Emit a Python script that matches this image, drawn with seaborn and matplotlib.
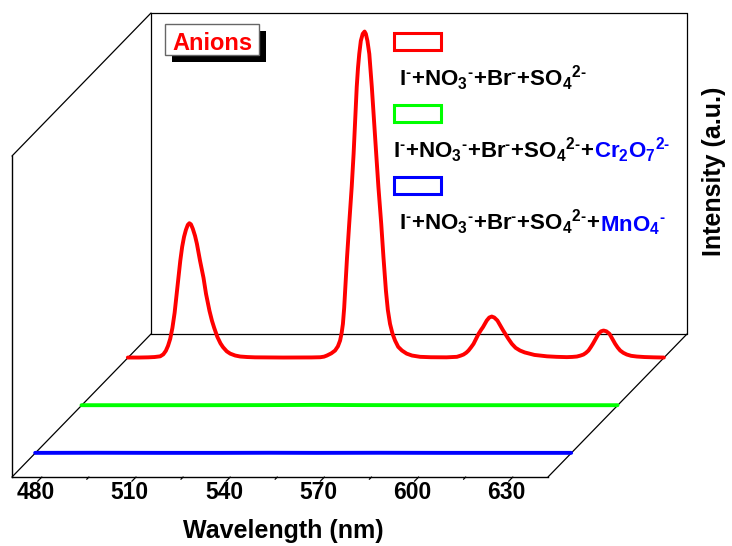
import matplotlib
matplotlib.use("Agg")
import numpy as np
import pandas as pd
import matplotlib.pyplot as plt
from matplotlib.patches import Rectangle
import seaborn as sns

# ---- emission spectra (a.u.) ----
red_wl = [470.5, 474.0, 477.0, 479.0, 480.8, 481.8, 482.6, 483.3, 484.0, 484.7,
          485.4, 486.0, 486.6, 487.2, 487.8, 488.4, 489.0, 489.6, 490.1, 490.6,
          491.2, 491.9, 492.5, 493.5, 494.6, 495.4, 496.5, 497.3, 498.0, 499.0,
          500.0, 500.8, 502.0, 503.1, 504.7, 506.3, 508.5, 511.0, 515.0, 520.0,
          525.0, 529.0, 531.8, 533.0, 533.9, 535.3, 536.5, 537.4, 538.1, 538.6,
          539.0, 539.4, 539.7, 540.3, 541.0, 541.8, 542.4, 542.9, 543.4, 543.8,
          544.2, 544.7, 545.3, 545.9, 546.3, 546.8, 547.4, 548.2, 548.9, 549.6,
          550.3, 551.2, 551.9, 552.7, 553.3, 554.0, 554.8, 555.6, 556.6, 557.8,
          559.3, 561.0, 563.6, 567.0, 572.0, 575.3, 576.5, 577.4, 578.3, 579.0,
          579.8, 580.6, 581.4, 582.2, 583.0, 583.6, 584.2, 584.8, 585.6, 586.4,
          587.2, 588.2, 588.8, 589.4, 590.0, 590.7, 591.7, 592.8, 594.0, 595.4,
          596.9, 598.6, 600.0, 601.8, 604.0, 607.0, 610.3, 612.0, 613.5, 614.6,
          615.6, 616.4, 617.2, 617.9, 618.6, 619.5, 620.4, 621.2, 622.0, 622.9,
          623.9, 624.8, 625.7, 626.5, 627.3, 628.3, 629.4, 630.8, 632.6, 635.0,
          638.0, 641.2]
red_int = [3, 3, 5, 8, 15, 35, 70, 120, 190, 300,
           450, 620, 800, 970, 1110, 1210, 1280, 1330, 1346, 1335,
           1290, 1220, 1140, 970, 800, 640, 470, 370, 300, 210,
           145, 107, 65, 42, 23, 13, 8, 5, 4, 3,
           3, 4, 6, 12, 23, 45, 73, 115, 173, 250,
           340, 500, 670, 1000, 1340, 1710, 2040, 2370, 2710, 2900,
           3040, 3170, 3240, 3263, 3240, 3170, 3040, 2710, 2370, 2040,
           1710, 1340, 1010, 670, 480, 340, 240, 173, 110, 73,
           42, 23, 10, 6, 5, 10, 22, 33, 52, 73,
           105, 140, 190, 240, 280, 307, 340, 373, 403, 413,
           403, 373, 340, 307, 275, 240, 190, 140, 100, 73,
           54, 40, 29, 23, 15, 10, 7, 9, 13, 22,
           33, 50, 73, 105, 140, 190, 240, 265, 273, 265,
           240, 190, 140, 103, 73, 50, 33, 20, 13, 8,
           5, 3]

green_wl = [470.5, 490.0, 510.0, 530.0, 545.0, 560.0, 580.0, 600.0, 620.0, 641.2]
green_int = [3, 3, 3, 4, 6, 4, 3, 3, 3, 3]

blue_wl = [470.5, 490.0, 510.0, 530.0, 545.0, 560.0, 580.0, 600.0, 620.0, 641.2]
blue_int = [3, 4, 3, 3, 4, 3, 4, 3, 3, 3]

series_keys = ["base", "dichromate", "permanganate"]
series_colors = ["#FF0000", "#00FF00", "#0000FF"]
series_depth = [5 / 6, 1 / 2, 1 / 6]      # position along the depth axis (0 = front, 1 = back)

x_ticks = [480, 510, 540, 570, 600, 630]
x_minor = [495, 525, 555, 585, 615]
x_range = (470.5, 641.2)
y_range = (0, 3210)

# ---- style ----
sns.set_theme(style="white")
plt.rcParams["font.family"] = ["Liberation Sans", "DejaVu Sans"]
plt.rcParams["font.weight"] = "bold"
plt.rcParams["mathtext.fontset"] = "custom"
plt.rcParams["mathtext.rm"] = "Liberation Sans:bold"
plt.rcParams["mathtext.bf"] = "Liberation Sans:bold"
plt.rcParams["mathtext.default"] = "regular"

W, H = 732, 546
fig = plt.figure(figsize=(W / 100, H / 100), dpi=100)

# front face of the oblique box
ax = fig.add_axes([12 / W, (H - 477) / H, 536 / W, 321 / H])
ax.set_xlim(*x_range)
ax.set_ylim(*y_range)

# oblique depth direction, as fractions of the front face
DEPTH_FX, DEPTH_FY = 139 / 536, 143 / 321
DX = DEPTH_FX * (x_range[1] - x_range[0])
DY = DEPTH_FY * (y_range[1] - y_range[0])


def proj(wl, inten, depth):
    return np.asarray(wl) + depth * DX, np.asarray(inten) + depth * DY


# ---- box frame ----
x0, x1 = x_range
y0, y1 = y_range
frame = dict(color="black", lw=0.9, clip_on=False, zorder=1)
edges = [
    [(x0, y0, 0), (x0, y0, 1)],            # left floor edge
    [(x1, y0, 0), (x1, y0, 1)],            # right floor edge
    [(x0, y1, 0), (x0, y1, 1)],            # left top edge
    [(x0, y0, 1), (x1, y0, 1)],            # back wall bottom
    [(x0, y1, 1), (x1, y1, 1)],            # back wall top
    [(x0, y0, 1), (x0, y1, 1)],            # back wall left
    [(x1, y0, 1), (x1, y1, 1)],            # back wall right
]
for (a, b) in edges:
    pa = proj(a[0], a[1], a[2])
    pb = proj(b[0], b[1], b[2])
    ax.plot([pa[0], pb[0]], [pa[1], pb[1]], **frame)

for side in ["top", "right"]:
    ax.spines[side].set_visible(False)
for side in ["left", "bottom"]:
    ax.spines[side].set_color("black")
    ax.spines[side].set_linewidth(1.0)

# ---- spectra ----
frames = []
for key, wl, inten, d in zip(series_keys,
                             [red_wl, green_wl, blue_wl],
                             [red_int, green_int, blue_int],
                             series_depth):
    px, py = proj(wl, inten, d)
    frames.append(pd.DataFrame({"x": px, "y": py, "series": key}))
df = pd.concat(frames, ignore_index=True)

sns.lineplot(data=df, x="x", y="y", hue="series", hue_order=series_keys,
             palette=series_colors, sort=False, estimator=None, legend=False,
             lw=2.8, clip_on=False, zorder=3, ax=ax)
ax.set_xlim(*x_range)
ax.set_ylim(*y_range)

# ---- wavelength ticks drawn along the depth direction ----
ax.set_xticks([])
ax.set_yticks([])
for wl in x_ticks:
    pa, pb = proj(wl, 0, 0), proj(wl, 0, -0.03)
    ax.plot([pa[0], pb[0]], [pa[1], pb[1]], **frame)
    lx, _ = proj(wl, 0, -0.045)
    ax.annotate(f"{wl}", xy=(float(lx), 0), xytext=(0, -22.3),
                textcoords="offset pixels", ha="center", va="baseline",
                fontsize=16.5, fontweight="bold", color="black",
                annotation_clip=False)
for wl in x_minor:
    pa, pb = proj(wl, 0, 0), proj(wl, 0, -0.016)
    ax.plot([pa[0], pb[0]], [pa[1], pb[1]], **frame)

ax.set_xlabel("Wavelength (nm)", fontsize=18, fontweight="bold",
              color="black", va="baseline", ha="center")
ax.xaxis.set_label_coords(283 / W, (H - 538) / H, transform=fig.transFigure)
ax.set_ylabel("Intensity (a.u.)", fontsize=18, fontweight="bold",
              color="black", va="center", ha="center", rotation=90)
ax.yaxis.set_label_coords(714 / W, (H - 171) / H, transform=fig.transFigure)

# ---- annotation layer in figure pixels ----
ov = fig.add_axes([0, 0, 1, 1], zorder=5)
ov.set_xlim(0, W)
ov.set_ylim(H, 0)
ov.axis("off")

# "Anions" tag with drop shadow
ov.add_patch(Rectangle((172, 31), 94, 31, fc="black", ec="none"))
ov.add_patch(Rectangle((165, 24), 94, 31, fc="white", ec="#666666", lw=1.0))
ov.text(212.5, 50, "Anions", color="#FF0000", fontsize=17, fontweight="bold",
        ha="center", va="baseline")

# legend: outlined swatches with labels underneath
HY = "\u2010"
base = (f"I$^{{{HY}}}$+NO$_3$$^{{{HY}}}$+Br$^{{{HY}}}$"
        f"+SO$_4$$^{{2{{{HY}}}}}$")
extras = [None, f"Cr$_2$O$_7$$^{{2{{{HY}}}}}$", f"MnO$_4$$^{{{HY}}}$"]
box_tops = [31, 103.3, 175.7]
text_base = [85.7, 158.3, 230.0]
text_x = [399.3, 393.3, 399.3]
for color, top, ty, tx, extra in zip(series_colors, box_tops, text_base, text_x, extras):
    ov.add_patch(Rectangle((393.5, top + 1.5), 47, 17, fill=False,
                           ec=color, lw=2.2))
    label = base if extra is None else base + "+"
    t = ov.text(tx, ty, label, fontsize=16, fontweight="bold", color="black",
                ha="left", va="baseline")
    if extra is not None:
        ov.annotate(extra, xy=(1, 0), xycoords=t, ha="left", va="bottom",
                    fontsize=16, fontweight="bold", color="#0000FF")

fig.savefig("out.png", dpi=100, facecolor="white")
